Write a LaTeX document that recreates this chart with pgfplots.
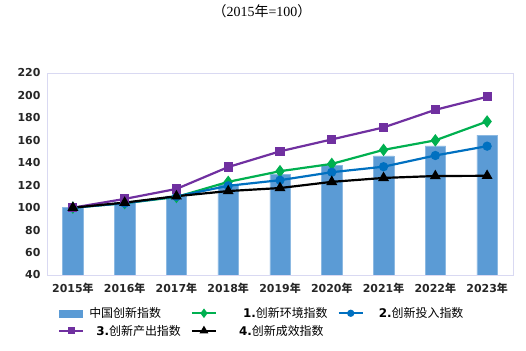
\documentclass[border=0pt]{standalone}
\usepackage{pgfplots}
\pgfplotsset{compat=1.18}
\usepackage{fontspec}
\setmainfont{DejaVu Sans}
\newfontfamily\cjk{Noto Sans CJK SC}
\newfontfamily\serif{Liberation Serif}
\definecolor{barblue}{HTML}{5B9BD5}
\definecolor{lgreen}{HTML}{00B050}
\definecolor{lblue}{HTML}{0070C0}
\definecolor{lpurple}{HTML}{7030A0}
\definecolor{frameC}{HTML}{D9D9F2}
\newcommand{\nian}{{\cjk\bfseries 年}}
\pgfplotsset{
  lineleg/.style={legend image code/.code={\draw[##1, mark size=#1] (0bp,0bp) -- (24bp,0bp) plot coordinates {(12bp,0bp)};}},
}
\pgfplotstableread{
x bar env inp out eff
0 100.0 100.0 100.0 100.0 100.0
1 104.5 104.0 104.0 107.8 104.5
2 110.5 109.5 110.0 116.7 110.2
3 121.0 123.0 119.5 136.2 114.8
4 129.5 132.5 124.5 150.2 117.5
5 137.8 139.0 131.6 160.8 123.0
6 146.2 151.5 136.5 171.5 126.5
7 155.0 160.0 146.5 187.2 128.2
8 164.6 176.8 154.8 198.8 128.4
}\datatable
\begin{document}
\begin{tikzpicture}
\path[use as bounding box] (0,0) rectangle (526bp,351bp);
\node[font=\fontsize{14}{16}\selectfont] at (262bp,340bp) {{\cjk （}{\serif 2015}{\cjk 年}{\serif =100}{\cjk ）}};
\begin{axis}[
  at={(47bp,76bp)}, anchor=south west,
  scale only axis, width=466bp, height=202bp,
  xmin=-0.5, xmax=8.5, ymin=40, ymax=220,
  ytick={40,60,...,220},
  xtick={0,...,8},
  xticklabels={2015\nian,2016\nian,2017\nian,2018\nian,2019\nian,2020\nian,2021\nian,2022\nian,2023\nian},
  major tick length=0pt,
  axis line style={frameC, line width=0.8pt},
  tick label style={font=\bfseries\fontsize{11}{13}\selectfont, text=black!85},
  /pgf/number format/assume math mode=true,
  yticklabel style={xshift=-3bp},
  xticklabel style={yshift=-5bp},
  legend columns=3,
  legend cell align=left,
  legend style={at={(0.017,-0.14)}, anchor=north west, draw=none, fill=none,
    font=\fontsize{12}{14}\selectfont,
    /tikz/every even column/.append style={column sep=8bp},
    row sep=2bp},
]
\addplot[ybar, bar width=20.5bp, fill=barblue, draw=barblue!70, bar shift=0pt,
  legend image code/.code={\fill[barblue] (0bp,-3.5bp) rectangle (23bp,3.5bp);}]
  table[x=x, y=bar] {\datatable};
\addlegendentry{\hspace{3bp}\cjk 中国创新指数}
\addplot[lgreen, line width=2.2pt, mark=diamond*, mark size=4.5pt, lineleg=3pt]
  table[x=x, y=env] {\datatable};
\addlegendentry{\hspace{24bp}{\bfseries 1.}{\cjk 创新环境指数}}
\addplot[lblue, line width=2.2pt, mark=*, mark size=3.5pt, lineleg=2.5pt]
  table[x=x, y=inp] {\datatable};
\addlegendentry{\hspace{13bp}{\bfseries 2.}{\cjk 创新投入指数}}
\addplot[lpurple, line width=2.2pt, mark=square*, mark size=3.5pt, lineleg=2.5pt]
  table[x=x, y=out] {\datatable};
\addlegendentry{\hspace{10bp}{\bfseries 3.}{\cjk 创新产出指数}}
\addplot[black, line width=2.2pt, mark=triangle*, mark size=4.2pt, lineleg=3pt]
  table[x=x, y=eff] {\datatable};
\addlegendentry{\hspace{20bp}{\bfseries 4.}{\cjk 创新成效指数}}
\end{axis}
\end{tikzpicture}
\end{document}
